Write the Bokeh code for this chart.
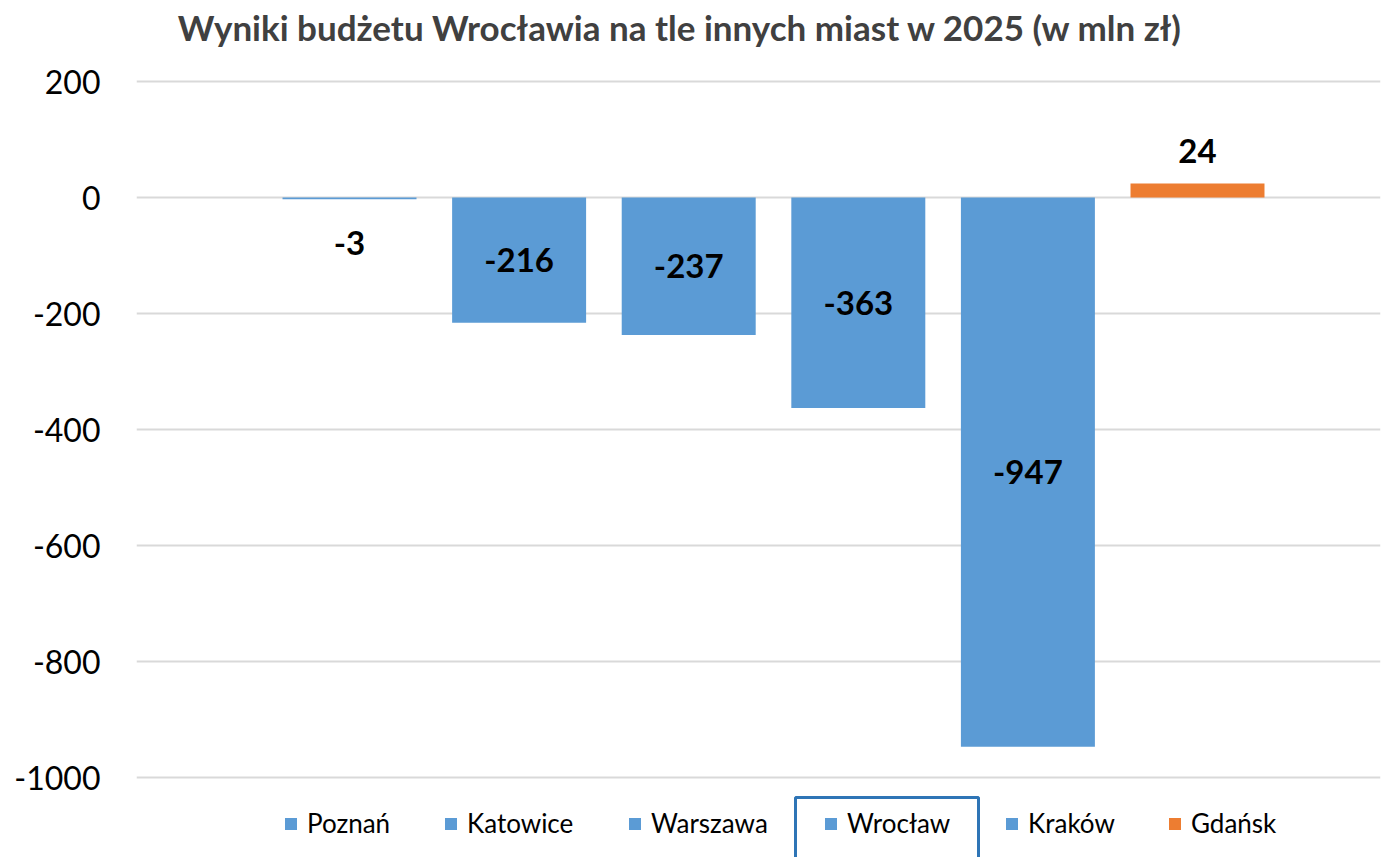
from bokeh.plotting import figure
from bokeh.models import (Range1d, FixedTicker, Legend, LegendItem, ColumnDataSource,
                          BoxAnnotation, Label)
from bokeh.core.properties import value
from bokeh.embed import file_html
from bokeh.resources import INLINE

# ---- data ----
cities = ["Poznań", "Katowice", "Warszawa", "Wrocław", "Kraków", "Gdańsk"]
results = [-3, -216, -237, -363, -947, 24]
bar_colors = ["#5B9BD5", "#5B9BD5", "#5B9BD5", "#5B9BD5", "#5B9BD5", "#ED7D31"]
y_ticks = [-1000, -800, -600, -400, -200, 0, 200]
title_text = "Wyniki budżetu Wrocławia na tle innych miast w 2025 (w mln zł)"
highlight = "Wrocław"

# ---- layout (pixels) ----
FONT = "Lato"
W, H = 1389, 857
frame_left = 136
title_center = (680, 26)                                   # page pixels
legend_square_x = [283, 443, 627, 823, 1004, 1167]
hl_box = dict(left=795, right=978, top=797, bottom=862)   # page pixels

xs = list(range(len(cities)))
labels = [str(v) for v in results]
label_y = [v / 2 if abs(v) > 100 else v for v in results]
label_off = [0 if abs(v) > 100 else (44 if v < 0 else -33) for v in results]

src = ColumnDataSource(dict(x=xs, y=results, color=bar_colors, city=cities,
                            ly=label_y, loff=label_off, lab=labels))

p = figure(width=W, height=H,
           x_range=Range1d(-1.256, 5 + 1.079),
           y_range=Range1d(-1137.9, 339.66),
           output_backend="svg", toolbar_location=None,
           min_border_left=frame_left, min_border_right=9,
           min_border_top=0, min_border_bottom=0)

p.outline_line_color = None
p.background_fill_color = "white"
p.border_fill_color = "white"

p.xaxis.visible = False
p.xgrid.grid_line_color = None
p.ygrid.grid_line_color = "#D9D9D9"
p.ygrid.grid_line_width = 2
p.yaxis.ticker = FixedTicker(ticks=y_ticks)
p.yaxis.major_label_overrides = {t: str(t) for t in y_ticks}
p.yaxis.axis_line_color = None
p.yaxis.major_tick_line_color = None
p.yaxis.minor_tick_line_color = None
p.yaxis.major_tick_out = 0
p.yaxis.major_tick_in = 0
p.yaxis.major_label_standoff = 36
p.yaxis.major_label_text_font = FONT
p.yaxis.major_label_text_font_size = "32px"
p.yaxis.major_label_text_color = "#000000"

bars = p.vbar(x="x", top="y", bottom=0, width=0.79, fill_color="color",
              line_color=None, source=src)

p.text(x="x", y="ly", text="lab", y_offset="loff", source=src,
       text_align="center", text_baseline="middle",
       text_font=value(FONT), text_font_size="33px", text_font_style="bold",
       text_color="#000000")

# chart title (screen units are relative to the frame's bottom-left corner)
p.add_layout(Label(x=title_center[0] - frame_left, y=H - title_center[1],
                   x_units="screen", y_units="screen",
                   text=title_text, text_align="center", text_baseline="middle",
                   text_font=FONT, text_font_size="35px", text_font_style="bold",
                   text_color="#404040"))

for i, city in enumerate(cities):
    leg = Legend(items=[LegendItem(label=city, renderers=[bars], index=i)],
                 location=(legend_square_x[i] - frame_left, 18),
                 orientation="horizontal",
                 padding=0, margin=0, spacing=0,
                 glyph_width=15, glyph_height=15, label_standoff=9,
                 label_height=14,
                 label_text_font=FONT, label_text_font_size="26px",
                 label_text_line_height=0.7,
                 label_text_color="#000000",
                 background_fill_alpha=0,
                 border_line_color=None)
    p.add_layout(leg)

# highlight frame around the Wrocław legend entry
p.add_layout(BoxAnnotation(left=hl_box["left"] - frame_left, right=hl_box["right"] - frame_left,
                           top=H - hl_box["top"], bottom=H - hl_box["bottom"],
                           left_units="screen", right_units="screen",
                           top_units="screen", bottom_units="screen",
                           fill_alpha=0, line_color="#2E75B6", line_alpha=1.0,
                           line_width=3))

open("out.html", "w").write(file_html(p, INLINE))
